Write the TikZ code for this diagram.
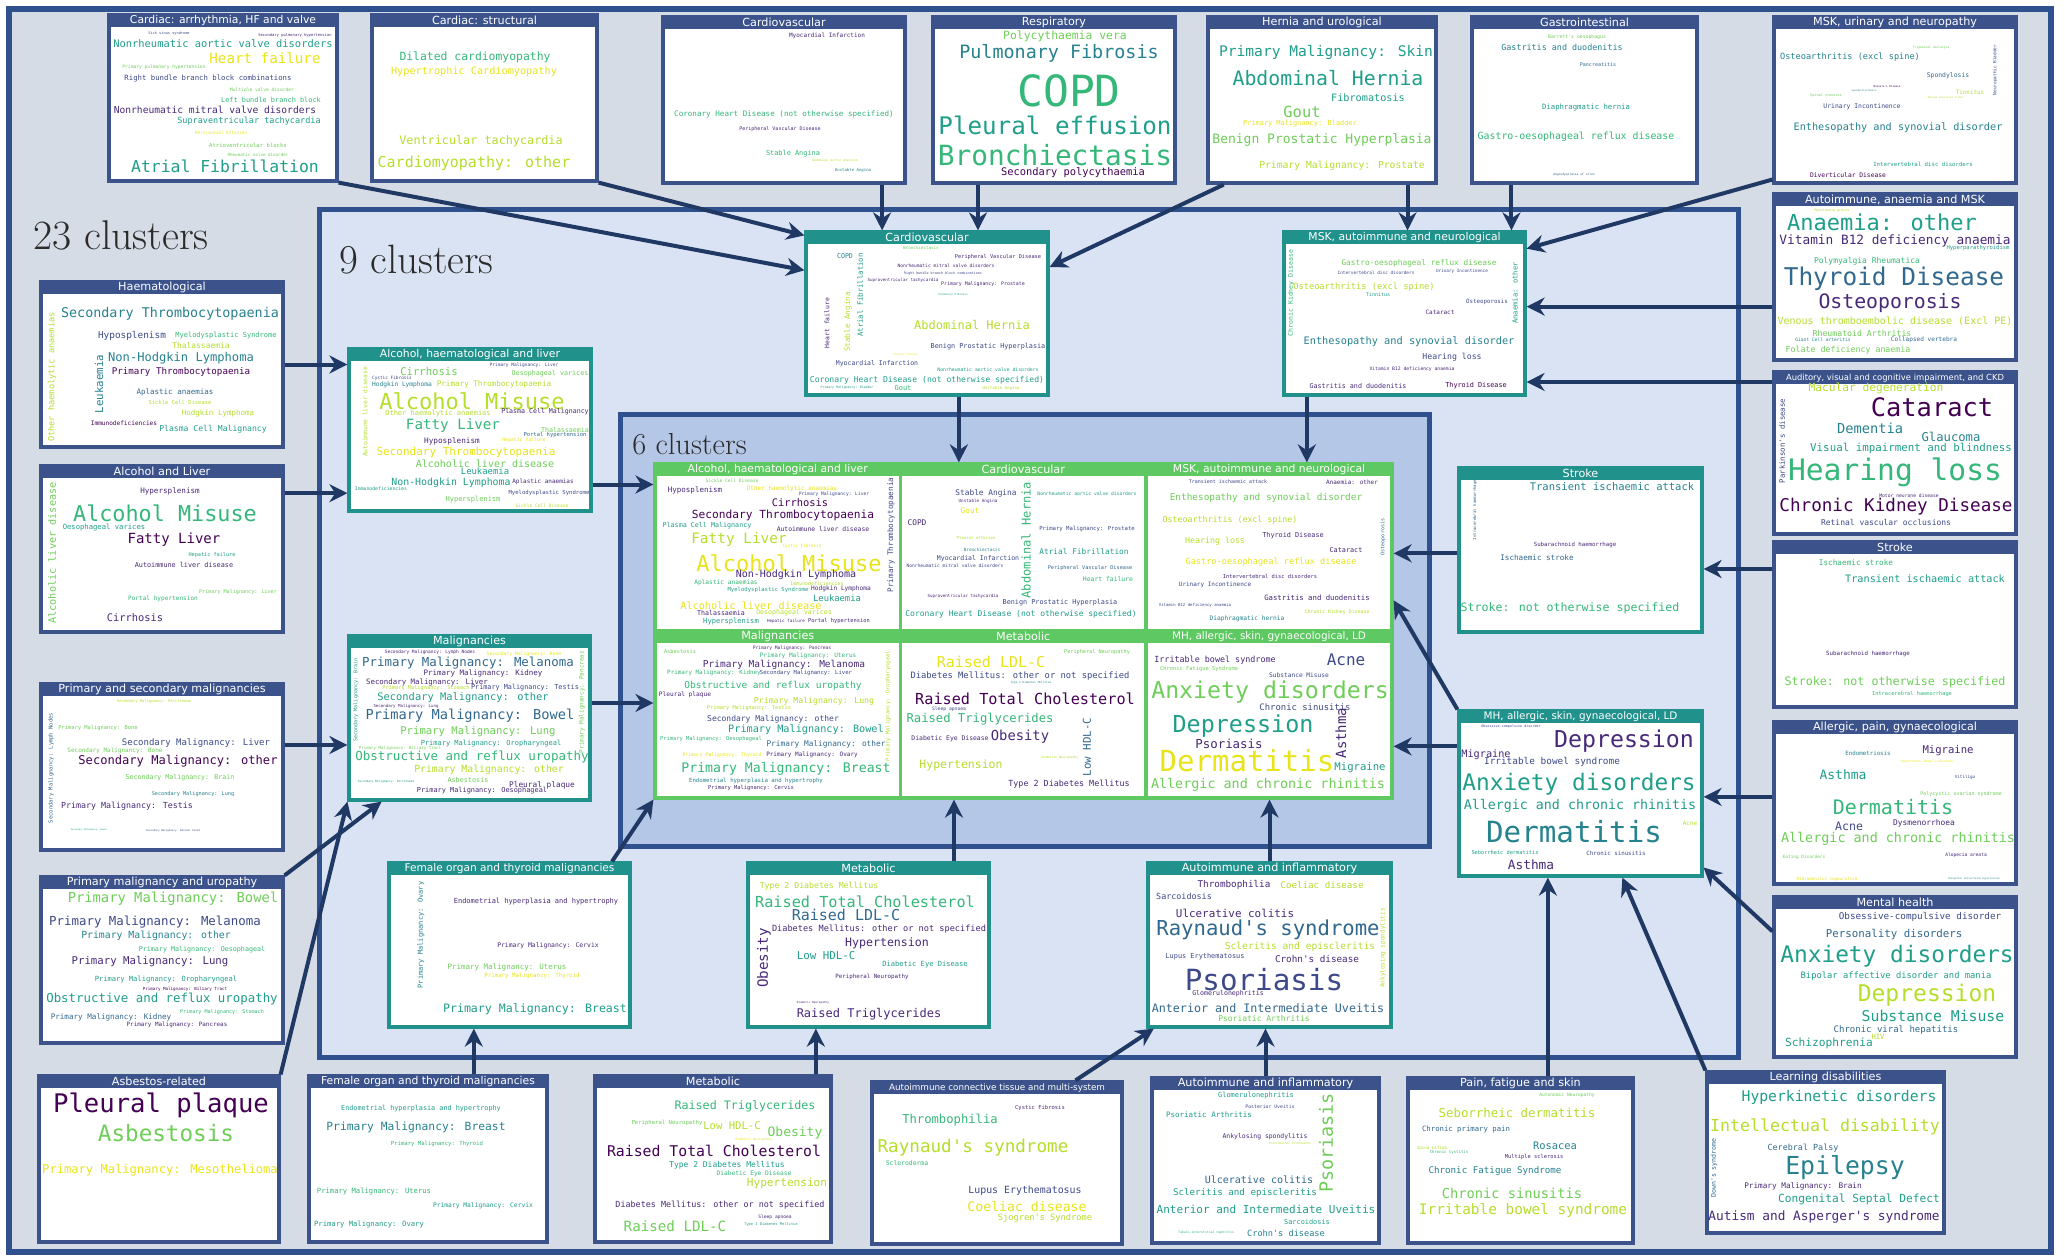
\documentclass[tikz,border=0pt]{standalone}
\usepackage{fontspec}
\newfontfamily\cloudfont{DejaVu Sans Mono}
\newfontfamily\headfont{DejaVu Sans}
\usepackage{tikz}
\usetikzlibrary{calc}
\usetikzlibrary{fit}
\usetikzlibrary{arrows.meta}
\definecolor{v0}{HTML}{440154}
\definecolor{v1}{HTML}{482878}
\definecolor{v2}{HTML}{3E4989}
\definecolor{v3}{HTML}{31688E}
\definecolor{v4}{HTML}{26828E}
\definecolor{v5}{HTML}{1F9E89}
\definecolor{v6}{HTML}{35B779}
\definecolor{v7}{HTML}{6ECE58}
\definecolor{v8}{HTML}{B5DE2B}
\definecolor{v9}{HTML}{E8E419}
\definecolor{hdblue}{HTML}{3B528B}
\definecolor{hdteal}{HTML}{21918C}
\definecolor{hdgreen}{HTML}{5EC962}
\definecolor{linkblue}{HTML}{203864}
\definecolor{frameblue}{HTML}{2F528F}
\definecolor{bgA}{HTML}{D6DCE5}
\definecolor{bgB}{HTML}{DAE3F3}
\definecolor{bgC}{HTML}{B4C7E7}
\definecolor{numtext}{HTML}{2B2B2B}
\tikzset{
  clbox/.style={
    draw=#1,
    fill=white,
    line width=1.6pt,
    inner sep=0pt,
  },
  hdtext/.style={
    text=white,
    inner sep=0pt,
  },
  cw/.style 2 args={
    font=\cloudfont\fontsize{#1}{#1}\selectfont,
    text=#2,
    inner sep=0pt,
  },
  link/.style={
    draw=linkblue,
    line width=2pt,
    -{Stealth[length=9pt,width=9pt]},
  },
  panel/.style={
    draw=frameblue,
    line width=2.5pt,
  },
  bignum/.style={
    text=numtext,
    anchor=base west,
    inner sep=0pt,
  }
}
% box with coloured title band: [title size]{name}{x1}{y1}{x2}{y2}{colour}{title}
\newcommand{\clusterbox}[8][5.6]{%
  \coordinate (#2-nw) at (#3,#4);
  \coordinate (#2-se) at (#5,#6);
  \node[clbox=#7, fit=(#2-nw)(#2-se)] (#2) {};
  \fill[#7] (#2.north west) rectangle ([yshift=-7pt]#2.north east);
  \node[hdtext, font=\headfont\fontsize{#1}{#1}\selectfont] (#2-title) at ([yshift=-3.7pt]#2.north) {#8};
}
% words of a cloud: x/y/size/colour/rotation/text
\newcommand{\wordcloud}[2]{%
  \foreach \x/\y/\sz/\col/\rot/\w [count=\i] in {#2} {
    \node[cw={\sz}{\col}, rotate=\rot] (#1-w\i) at (\x,\y) {\w};
  }
}

\begin{document}
\begin{tikzpicture}[x=0.5pt, y=-0.5pt]
  \useasboundingbox (0,0) rectangle (2065,1258);

  % nested panels
  \draw[panel, line width=3pt, fill=bgA] (9,9) rectangle (2051,1252);
  \draw[panel, fill=bgB] (319,209) rectangle (1738,1057);
  \draw[panel, fill=bgC] (620,414) rectangle (1429,846);

  \node[bignum, font=\fontsize{20.8}{20.8}\selectfont] (lab23) at (33,249) {23 clusters};
  \node[bignum, font=\fontsize{20.5}{20.5}\selectfont] (lab9) at (339,273) {9 clusters};
  \node[bignum, font=\fontsize{15.2}{15.2}\selectfont] (lab6) at (632,454) {6 clusters};

  % ---------------- 23 clusters ----------------
  \clusterbox[5.4]{arrh23}{109}{15}{337}{181}{hdblue}{Cardiac: arrhythmia, HF and valve}
  \wordcloud{arrh23}{169/34/1.8/v2/0/{Sick sinus syndrome}, 295/35/1.9/v1/0/{Secondary pulmonary hypertension},
    223/44/5.2/v5/0/{Nonrheumatic aortic valve disorders}, 265/58/7.1/v9/0/{Heart failure},
    164/67/2.3/v7/0/{Primary pulmonary hypertension}, 208/78/3.65/v2/0/{Right bundle branch block combinations},
    262/90/2.3/v7/0/{Multiple valve disorder}, 271/100/3.45/v6/0/{Left bundle branch block},
    215/110/4.8/v1/0/{Nonrheumatic mitral valve disorders}, 249/121/4.25/v5/0/{Supraventricular tachycardia},
    221/133/2.15/v9/0/{Pericardial Effusion}, 248/145/2.8/v7/0/{Atrioventricular blocks},
    258/155/2.1/v7/0/{Rheumatic valve disorder}, 225/166/8.2/v5/0/{Atrial Fibrillation}}

  \clusterbox{struct23}{372}{15}{597}{181}{hdblue}{Cardiac: structural}
  \wordcloud{struct23}{475/57/5.7/v6/0/{Dilated cardiomyopathy}, 474/72/5.1/v9/0/{Hypertrophic Cardiomyopathy},
    481/141/5.9/v8/0/{Ventricular tachycardia}, 474/163/7.5/v8/0/{Cardiomyopathy: other}}

  \clusterbox{cv23}{663}{17}{905}{183}{hdblue}{Cardiovascular}
  \wordcloud{cv23}{827/36/3.0/v1/0/{Myocardial Infarction}, 784/114/3.8/v6/0/{Coronary Heart Disease (not otherwise specified)},
    780/129/2.5/v1/0/{Peripheral Vascular Disease}, 793/154/3.45/v6/0/{Stable Angina},
    835/161/1.5/v8/0/{Abdominal Aortic Aneurysm}, 853/170/2.0/v4/0/{Unstable Angina}}

  \clusterbox{resp23}{933}{17}{1175}{183}{hdblue}{Respiratory}
  \wordcloud{resp23}{1065/36/5.7/v7/0/{Polycythaemia vera}, 1059/53/9.2/v4/0/{Pulmonary Fibrosis},
    1069/91/21.5/v6/0/{COPD}, 1055/125/12.1/v5/0/{Pleural effusion},
    1055/155/13.9/v6/0/{Bronchiectasis}, 1073/173/5.2/v0/0/{Secondary polycythaemia}}

  \clusterbox{hern23}{1208}{17}{1436}{183}{hdblue}{Hernia and urological}
  \wordcloud{hern23}{1326/52/7.3/v5/0/{Primary Malignancy: Skin}, 1328/78/9.9/v5/0/{Abdominal Hernia},
    1368/98/5.1/v5/0/{Fibromatosis}, 1302/112/7.7/v7/0/{Gout},
    1300/124/3.45/v9/0/{Primary Malignancy: Bladder}, 1322/140/6.5/v7/0/{Benign Prostatic Hyperplasia},
    1342/166/4.85/v8/0/{Primary Malignancy: Prostate}}

  \clusterbox{gi23}{1472}{17}{1697}{183}{hdblue}{Gastrointestinal}
  \wordcloud{gi23}{1577/37/2.4/v7/0/{Barrett's oesophagus}, 1562/47/4.2/v4/0/{Gastritis and duodenitis},
    1598/65/2.5/v3/0/{Pancreatitis}, 1586/108/3.65/v5/0/{Diaphragmatic hernia},
    1576/137/4.95/v6/0/{Gastro-oesophageal reflux disease}, 1574/175/1.5/v3/0/{Angiodysplasia of colon}}

  \clusterbox{mskun23}{1774}{17}{2016}{183}{hdblue}{MSK, urinary and neuropathy}
  \wordcloud{mskun23}{1931/48/1.5/v7/0/{Trigeminal neuralgia}, 1850/57/4.3/v4/0/{Osteoarthritis (excl spine)},
    1995/70/2.2/v2/90/{Neuropathic Bladder}, 1948/76/3.2/v3/0/{Spondylosis},
    1970/92/2.95/v8/0/{Tinnitus}, 1887/87/1.3/v0/0/{Meniere's Disease},
    1864/91/1.2/v4/0/{Spondylolisthesis}, 1826/96/1.75/v7/0/{Spinal stenosis},
    1946/98/1.3/v8/0/{Benign essential tremor}, 1862/107/3.2/v2/0/{Urinary Incontinence},
    1898/128/5.1/v4/0/{Enthesopathy and synovial disorder}, 1923/164/2.85/v5/0/{Intervertebral disc disorders},
    1848/175/3.15/v0/0/{Diverticular Disease}}

  \clusterbox{autan23}{1774}{194}{2016}{360}{hdblue}{Autoimmune, anaemia and MSK}
  \wordcloud{autan23}{1832/211/1.7/v8/0/{Myasthenia gravis}, 1882/222/11/v5/0/{Anaemia: other},
    1895/241/6.4/v1/0/{Vitamin B12 deficiency anaemia}, 1978/248/2.75/v5/0/{Hyperparathyroidism},
    1867/261/4.0/v6/0/{Polymyalgia Rheumatica}, 1894/279/12.2/v3/0/{Thyroid Disease},
    1890/303/9.9/v1/0/{Osteoporosis}, 1895/321/5.0/v8/0/{Venous thromboembolic disease (Excl PE)},
    1862/333/4.1/v7/0/{Rheumatoid Arthritis}, 1823/340/2.3/v4/0/{Giant Cell arteritis},
    1924/340/3.05/v3/0/{Collapsed vertebra}, 1848/350/4.15/v7/0/{Folate deficiency anaemia}}

  \clusterbox[4.2]{aud23}{1774}{372}{2016}{534}{hdblue}{Auditory, visual and cognitive impairment, and CKD}
  \wordcloud{aud23}{1876/388/5.6/v8/0/{Macular degeneration}, 1932/407/12.7/v0/0/{Cataract},
    1870/428/6.85/v4/0/{Dementia}, 1951/437/6.1/v4/0/{Glaucoma},
    1911/448/5.4/v5/0/{Visual impairment and blindness}, 1782/441/3.7/v2/90/{Parkinson's disease},
    1895/472/14.8/v6/0/{Hearing loss}, 1909/496/2.35/v1/0/{Motor neurone disease},
    1896/507/8.8/v0/0/{Chronic Kidney Disease}, 1886/522/4.0/v2/0/{Retinal vascular occlusions}}

  \clusterbox{stroke23}{1774}{542}{2016}{707}{hdblue}{Stroke}
  \wordcloud{stroke23}{1856/563/3.85/v6/0/{Ischaemic stroke}, 1925/579/5.1/v5/0/{Transient ischaemic attack},
    1868/654/2.9/v1/0/{Subarachnoid haemorrhage}, 1895/682/5.85/v7/0/{Stroke: not otherwise specified},
    1912/694/2.65/v6/0/{Intracerebral haemorrhage}}

  \clusterbox{allerg23}{1774}{722}{2016}{884}{hdblue}{Allergic, pain, gynaecological}
  \wordcloud{allerg23}{1868/753/2.9/v4/0/{Endometriosis}, 1948/751/5.3/v1/0/{Migraine},
    1927/762/1.5/v9/0/{Hypertrophic Nasal Turbinates}, 1843/775/6.5/v5/0/{Asthma},
    1965/777/2.1/v2/0/{Vitiligo}, 1961/794/2.5/v7/0/{Polycystic ovarian syndrome},
    1893/807/10/v6/0/{Dermatitis}, 1924/823/3.95/v1/0/{Dysmenorrhoea},
    1849/826/5.8/v2/0/{Acne}, 1898/839/6.7/v7/0/{Allergic and chronic rhinitis},
    1804/857/2.2/v7/0/{Eating Disorders}, 1966/855/2.3/v1/0/{Alopecia areata},
    1827/879/2.1/v9/0/{Hidradenitis suppurativa}, 1974/879/1.2/v4/0/{Idiopathic Intracranial Hypertension}}

  \clusterbox{mh23}{1774}{897}{2016}{1057}{hdblue}{Mental health}
  \wordcloud{mh23}{1920/917/4.65/v2/0/{Obsessive-compulsive disorder}, 1894/934/5.4/v3/0/{Personality disorders},
    1897/956/11.4/v5/0/{Anxiety disorders}, 1896/976/4.4/v5/0/{Bipolar affective disorder and mania},
    1927/995/11.5/v8/0/{Depression}, 1933/1016/7.4/v5/0/{Substance Misuse},
    1896/1030/4.5/v3/0/{Chronic viral hepatitis}, 1878/1037/3.6/v8/0/{HIV},
    1829/1043/5.6/v5/0/{Schizophrenia}}

  \clusterbox{ld23}{1707}{1072}{1944}{1233}{hdblue}{Learning disabilities}
  \wordcloud{ld23}{1839/1097/7.35/v5/0/{Hyperkinetic disorders}, 1825/1127/8.3/v8/0/{Intellectual disability},
    1803/1148/4.2/v3/0/{Cerebral Palsy}, 1714/1168/3.3/v3/90/{Down's syndrome},
    1845/1168/12.4/v4/0/{Epilepsy}, 1803/1186/3.85/v1/0/{Primary Malignancy: Brain},
    1859/1199/5.6/v5/0/{Congenital Septal Defect}, 1824/1217/6.4/v1/0/{Autism and Asperger's syndrome}}

  \clusterbox{pfs23}{1408}{1078}{1633}{1243}{hdblue}{Pain, fatigue and skin}
  \wordcloud{pfs23}{1567/1095/2.3/v7/0/{Autonomic Neuropathy}, 1517/1113/6.2/v8/0/{Seborrheic dermatitis},
    1466/1129/3.65/v3/0/{Chronic primary pain}, 1432/1148/2.1/v8/0/{Spina bifida},
    1449/1152/2.0/v6/0/{Chronic Cystitis}, 1555/1146/5.2/v4/0/{Rosacea},
    1534/1157/2.7/v1/0/{Multiple sclerosis}, 1495/1171/4.6/v4/0/{Chronic Fatigue Syndrome},
    1512/1193/6.85/v7/0/{Chronic sinusitis}, 1523/1210/7.2/v8/0/{Irritable bowel syndrome}}

  \clusterbox{ai23}{1152}{1078}{1379}{1243}{hdblue}{Autoimmune and inflammatory}
  \wordcloud{ai23}{1256/1096/3.5/v5/0/{Glomerulonephritis}, 1270/1107/2.4/v2/0/{Posterior Uveitis},
    1209/1115/3.75/v5/0/{Psoriatic Arthritis}, 1326/1143/9.2/v7/90/{Psoriasis},
    1265/1137/3.2/v1/0/{Ankylosing spondylitis}, 1290/1144/1.45/v8/0/{Enteropathic arthropathy},
    1259/1180/5.0/v3/0/{Ulcerative colitis}, 1245/1193/4.6/v5/0/{Scleritis and episcleritis},
    1266/1209/5.5/v5/0/{Anterior and Intermediate Uveitis}, 1307/1222/3.45/v5/0/{Sarcoidosis},
    1206/1233/1.6/v6/0/{Tubulo-interstitial nephritis}, 1286/1233/4.3/v4/0/{Crohn's disease}}

  \clusterbox[4.4]{act23}{872}{1082}{1122}{1244}{hdblue}{Autoimmune connective tissue and multi-system}
  \wordcloud{act23}{1040/1108/2.75/v1/0/{Cystic Fibrosis}, 950/1120/6.1/v6/0/{Thrombophilia},
    973/1148/8.8/v8/0/{Raynaud's syndrome}, 907/1163/3.2/v6/0/{Scleroderma},
    1025/1191/4.95/v2/0/{Lupus Erythematosus}, 1027/1207/6.6/v9/0/{Coeliac disease},
    1045/1218/4.35/v8/0/{Sjogren's Syndrome}}

  \clusterbox{met23}{595}{1076}{831}{1242}{hdblue}{Metabolic}
  \wordcloud{met23}{745/1106/5.85/v6/0/{Raised Triglycerides}, 667/1123/2.8/v7/0/{Peripheral Neuropathy},
    732/1126/5.3/v8/0/{Low HDL-C}, 795/1133/6.5/v7/0/{Obesity},
    754/1140/1.6/v9/0/{Diabetic Neuropathy}, 714/1151/7.4/v0/0/{Raised Total Cholesterol},
    727/1165/4.0/v5/0/{Type 2 Diabetes Mellitus}, 754/1174/3.1/v6/0/{Diabetic Eye Disease},
    787/1183/5.55/v8/0/{Hypertension}, 720/1205/4.2/v1/0/{Diabetes Mellitus: other or not specified},
    775/1217/2.3/v1/0/{Sleep apnoea}, 771/1224/1.85/v5/0/{Type 1 Diabetes Mellitus},
    675/1226/7.1/v7/0/{Raised LDL-C}}

  \clusterbox[5.4]{fem23}{309}{1076}{547}{1242}{hdblue}{Female organ and thyroid malignancies}
  \wordcloud{fem23}{421/1109/3.4/v5/0/{Endometrial hyperplasia and hypertrophy}, 416/1127/5.65/v4/0/{Primary Malignancy: Breast},
    437/1144/2.8/v6/0/{Primary Malignancy: Thyroid}, 374/1191/3.6/v6/0/{Primary Malignancy: Uterus},
    483/1206/3.15/v5/0/{Primary Malignancy: Cervix}, 369/1225/3.6/v5/0/{Primary Malignancy: Ovary}}

  \clusterbox{asb23}{39}{1076}{279}{1242}{hdblue}{Asbestos-related}
  \wordcloud{asb23}{161/1105/12.8/v0/0/{Pleural plaque}, 166/1133/11.3/v7/0/{Asbestosis},
    160/1170/6.05/v9/0/{Primary Malignancy: Mesothelioma}}

  \clusterbox{pmu23}{41}{877}{283}{1043}{hdblue}{Primary malignancy and uropathy}
  \wordcloud{pmu23}{173/899/6.9/v7/0/{Primary Malignancy: Bowel}, 155/922/6.2/v2/0/{Primary Malignancy: Melanoma},
    156/936/4.9/v4/0/{Primary Malignancy: other}, 202/950/3.35/v6/0/{Primary Malignancy: Oesophageal},
    150/962/5.35/v1/0/{Primary Malignancy: Lung}, 166/980/3.55/v5/0/{Primary Malignancy: Oropharyngeal},
    185/989/2.1/v0/0/{Primary Malignancy: Biliary Tract}, 162/999/6.2/v5/0/{Obstructive and reflux uropathy},
    222/1012/2.55/v6/0/{Primary Malignancy: Stomach}, 111/1017/3.8/v3/0/{Primary Malignancy: Kidney},
    177/1025/2.95/v1/0/{Primary Malignancy: Pancreas}}

  \clusterbox{psm23}{41}{684}{283}{850}{hdblue}{Primary and secondary malignancies}
  \wordcloud{psm23}{154/701/1.9/v8/0/{Secondary Malignancy: Peritoneum}, 51/768/2.75/v3/90/{Secondary Malignancy: Lymph Nodes},
    98/728/2.7/v7/0/{Primary Malignancy: Bone}, 196/743/4.5/v2/0/{Secondary Malignancy: Liver},
    115/751/3.0/v7/0/{Secondary Malignancy: Bone}, 178/761/6.05/v0/0/{Secondary Malignancy: other},
    180/778/3.3/v7/0/{Secondary Malignancy: Brain}, 193/794/2.6/v4/0/{Secondary Malignancy: Lung},
    127/806/4.15/v1/0/{Primary Malignancy: Testis}, 89/830/1.1/v5/0/{Secondary Malignancy: Bowel},
    173/831/1.26/v2/0/{Secondary Malignancy: Adrenal Gland}}

  \clusterbox{al23}{41}{466}{283}{632}{hdblue}{Alcohol and Liver}
  \wordcloud{al23}{52/553/5.1/v7/90/{Alcoholic liver disease}, 170/491/3.8/v1/0/{Hypersplenism},
    165/513/10.9/v6/0/{Alcohol Misuse}, 104/528/3.6/v5/0/{Oesophageal varices},
    174/540/7.0/v0/0/{Fatty Liver}, 212/555/2.6/v5/0/{Hepatic failure},
    184/565/3.4/v1/0/{Autoimmune liver disease}, 238/592/2.55/v7/0/{Primary Malignancy: Liver},
    163/599/3.05/v6/0/{Portal hypertension}, 135/618/5.2/v1/0/{Cirrhosis}}

  \clusterbox{haem23}{41}{282}{283}{447}{hdblue}{Haematological}
  \wordcloud{haem23}{52/377/4.3/v8/90/{Other haemolytic anaemias}, 170/314/6.7/v4/0/{Secondary Thrombocytopaenia},
    132/336/4.7/v2/0/{Hyposplenism}, 226/336/3.5/v6/0/{Myelodysplastic Syndrome},
    201/346/3.95/v8/0/{Thalassaemia}, 181/358/6.05/v4/0/{Non-Hodgkin Lymphoma},
    181/372/4.6/v0/0/{Primary Thrombocytopaenia}, 99/384/5.4/v4/90/{Leukaemia},
    175/392/3.75/v3/0/{Aplastic anaemias}, 180/402/2.75/v8/0/{Sickle Cell Disease},
    218/413/3.75/v8/0/{Hodgkin Lymphoma}, 124/423/3.05/v0/0/{Immunodeficiencies},
    213/429/4.05/v5/0/{Plasma Cell Malignancy}}

  % ---------------- 9 clusters ----------------
  \clusterbox[5.4]{alc9}{349}{349}{591}{511}{hdteal}{Alcohol, haematological and liver}
  \wordcloud{alc9}{524/365/2.25/v2/0/{Primary Malignancy: Liver}, 429/372/5.3/v7/0/{Cirrhosis},
    550/374/3.35/v7/0/{Oesophageal varices}, 365/412/3.1/v8/90/{Autoimmune liver disease},
    392/378/2.2/v2/0/{Cystic Fibrosis}, 402/385/3.1/v4/0/{Hodgkin Lymphoma},
    494/384/3.8/v8/0/{Primary Thrombocytopaenia}, 472/401/11/v8/0/{Alcohol Misuse},
    438/414/3.5/v8/0/{Other haemolytic anaemias}, 545/412/3.3/v1/0/{Plasma Cell Malignancy},
    453/426/7.1/v6/0/{Fatty Liver}, 565/430/3.3/v7/0/{Thalassaemia},
    555/435/2.75/v3/0/{Portal hypertension}, 524/440/2.4/v9/0/{Hepatic failure},
    452/441/3.85/v1/0/{Hyposplenism}, 466/452/5.5/v9/0/{Secondary Thrombocytopaenia},
    485/464/5.0/v7/0/{Alcoholic liver disease}, 485/471/4.45/v5/0/{Leukaemia},
    451/483/4.95/v5/0/{Non-Hodgkin Lymphoma}, 543/482/3.0/v1/0/{Aplastic anaemias},
    381/489/2.4/v5/0/{Immunodeficiencies}, 549/493/2.8/v2/0/{Myelodysplastic Syndrome},
    473/500/3.5/v7/0/{Hypersplenism}, 542/506/2.3/v8/0/{Sickle Cell Disease}}

  \clusterbox{mal9}{349}{636}{590}{800}{hdteal}{Malignancies}
  \wordcloud{mal9}{430/652/2.25/v1/0/{Secondary Malignancy: Lymph Nodes}, 524/654/2.35/v9/0/{Secondary Malignancy: Bone},
    356/700/2.55/v5/90/{Secondary Malignancy: Brain}, 582/702/3.0/v7/90/{Primary Malignancy: Pancreas},
    468/663/6.2/v3/0/{Primary Malignancy: Melanoma}, 483/673/3.75/v1/0/{Primary Malignancy: Kidney},
    427/682/3.7/v1/0/{Secondary Malignancy: Liver}, 426/688/2.65/v8/0/{Primary Malignancy: Stomach},
    525/688/3.4/v2/0/{Primary Malignancy: Testis}, 463/698/5.2/v5/0/{Secondary Malignancy: other},
    406/706/2.05/v1/0/{Secondary Malignancy: Lung}, 470/716/6.85/v3/0/{Primary Malignancy: Bowel},
    478/732/5.3/v7/0/{Primary Malignancy: Lung}, 491/744/3.5/v5/0/{Primary Malignancy: Oropharyngeal},
    400/748/2.05/v7/0/{Primary Malignancy: Biliary Tract}, 472/757/6.25/v6/0/{Obstructive and reflux uropathy},
    489/770/4.9/v8/0/{Primary Malignancy: other}, 468/780/3.4/v7/0/{Asbestosis},
    542/785/3.9/v1/0/{Pleural plaque}, 482/791/3.45/v1/0/{Primary Malignancy: Oesophageal},
    386/782/1.45/v5/0/{Secondary Malignancy: Peritoneum}}

  \clusterbox{cv9}{806}{232}{1048}{395}{hdteal}{Cardiovascular}
  \wordcloud{cv9}{845/256/3.3/v4/0/{COPD}, 860/295/3.65/v5/90/{Atrial Fibrillation},
    848/322/3.8/v8/90/{Stable Angina}, 827/323/3.2/v1/90/{Heart failure},
    921/248/2.1/v7/0/{Bronchiectasis}, 998/257/2.65/v1/0/{Peripheral Vascular Disease},
    946/266/2.3/v1/0/{Nonrheumatic mitral valve disorders}, 943/274/1.7/v2/0/{Right bundle branch block combinations},
    903/280/2.1/v1/0/{Supraventricular tachycardia}, 983/284/2.45/v1/0/{Primary Malignancy: Prostate},
    953/295/1.35/v5/0/{Pulmonary Fibrosis}, 972/325/6.0/v8/0/{Abdominal Hernia},
    988/347/3.4/v2/0/{Benign Prostatic Hyperplasia}, 906/355/1.25/v9/0/{Pleural effusion},
    877/364/3.25/v2/0/{Myocardial Infarction}, 988/370/2.4/v5/0/{Nonrheumatic aortic valve disorders},
    927/380/4.05/v5/0/{Coronary Heart Disease (not otherwise specified)}, 903/388/3.5/v6/0/{Gout},
    847/388/1.6/v5/0/{Primary Malignancy: Bladder}, 1001/388/2.05/v8/0/{Unstable Angina}}

  \clusterbox[5.4]{msk9}{1284}{232}{1525}{395}{hdteal}{MSK, autoimmune and neurological}
  \wordcloud{msk9}{1419/263/3.9/v7/0/{Gastro-oesophageal reflux disease}, 1462/271/2.15/v2/0/{Urinary Incontinence},
    1376/273/2.2/v2/0/{Intervertebral disc disorders}, 1364/287/4.35/v8/0/{Osteoarthritis (excl spine)},
    1378/295/2.5/v5/0/{Tinnitus}, 1291/293/3.25/v6/90/{Chronic Kidney Disease},
    1515/293/3.55/v5/90/{Anaemia: other}, 1487/302/2.9/v2/0/{Osteoporosis},
    1440/312/3.0/v1/0/{Cataract}, 1409/342/5.15/v4/0/{Enthesopathy and synovial disorder},
    1452/357/4.1/v2/0/{Hearing loss}, 1412/369/2.35/v1/0/{Vitamin B12 deficiency anaemia},
    1358/386/3.35/v1/0/{Gastritis and duodenitis}, 1476/386/3.4/v0/0/{Thyroid Disease}}

  \clusterbox{stroke9}{1459}{468}{1702}{632}{hdteal}{Stroke}
  \wordcloud{stroke9}{1612/487/5.25/v4/0/{Transient ischaemic attack}, 1475/510/2.0/v3/90/{Intracerebral haemorrhage},
    1575/545/2.85/v1/0/{Subarachnoid haemorrhage}, 1537/558/3.8/v3/0/{Ischaemic stroke},
    1570/608/5.8/v6/0/{Stroke: not otherwise specified}}

  \clusterbox[5.2]{mh9}{1459}{711}{1702}{876}{hdteal}{MH, allergic, skin, gynaecological, LD}
  \wordcloud{mh9}{1511/727/1.7/v2/0/{Obsessive-compulsive disorder}, 1624/741/11.6/v1/0/{Depression},
    1486/755/5.1/v1/0/{Migraine}, 1552/762/4.7/v2/0/{Irritable bowel syndrome},
    1579/784/11.4/v5/0/{Anxiety disorders}, 1580/806/6.65/v5/0/{Allergic and chronic rhinitis},
    1574/832/14.6/v4/0/{Dermatitis}, 1690/823/3.0/v8/0/{Acne},
    1505/853/2.65/v5/0/{Seborrheic dermatitis}, 1616/853/2.9/v2/0/{Chronic sinusitis},
    1531/865/6.4/v1/0/{Asthma}}

  \clusterbox[5.3]{fem9}{389}{863}{630}{1027}{hdteal}{Female organ and thyroid malignancies}
  \wordcloud{fem9}{421/935/3.5/v4/90/{Primary Malignancy: Ovary}, 536/902/3.5/v1/0/{Endometrial hyperplasia and hypertrophy},
    548/946/3.2/v1/0/{Primary Malignancy: Cervix}, 507/967/3.75/v7/0/{Primary Malignancy: Uterus},
    532/976/2.9/v9/0/{Primary Malignancy: Thyroid}, 535/1009/5.8/v5/0/{Primary Malignancy: Breast}}

  \clusterbox{met9}{748}{863}{989}{1027}{hdteal}{Metabolic}
  \wordcloud{met9}{819/886/4.1/v8/0/{Type 2 Diabetes Mellitus}, 865/902/7.6/v6/0/{Raised Total Cholesterol},
    846/915/7.5/v3/0/{Raised LDL-C}, 879/929/4.3/v1/0/{Diabetes Mellitus: other or not specified},
    764/958/7.1/v1/90/{Obesity}, 887/943/5.8/v1/0/{Hypertension},
    826/956/5.4/v5/0/{Low HDL-C}, 925/965/3.55/v5/0/{Diabetic Eye Disease},
    872/977/2.9/v1/0/{Peripheral Neuropathy}, 813/1003/1.4/v1/0/{Diabetic Neuropathy},
    869/1014/6.0/v1/0/{Raised Triglycerides}}

  \clusterbox{ai9}{1148}{863}{1391}{1027}{hdteal}{Autoimmune and inflammatory}
  \wordcloud{ai9}{1234/885/4.65/v1/0/{Thrombophilia}, 1322/885/4.6/v8/0/{Coeliac disease},
    1184/896/4.2/v2/0/{Sarcoidosis}, 1235/913/5.45/v1/0/{Ulcerative colitis},
    1268/930/10.3/v3/0/{Raynaud's syndrome}, 1300/947/4.8/v8/0/{Scleritis and episcleritis},
    1205/957/3.45/v2/0/{Lupus Erythematosus}, 1317/959/4.65/v1/0/{Crohn's disease},
    1264/980/14.6/v2/0/{Psoriasis}, 1228/994/3.3/v1/0/{Glomerulonephritis},
    1268/1008/5.85/v3/0/{Anterior and Intermediate Uveitis}, 1264/1019/4.0/v7/0/{Psoriatic Arthritis},
    1383/948/3.0/v8/90/{Ankylosing spondylitis}}

  % ---------------- 6 clusters ----------------
  \clusterbox[5.4]{alc6}{655}{464}{900.5}{631}{hdgreen}{Alcohol, haematological and liver}
  \wordcloud{alc6}{732/481/2.3/v7/0/{Sickle Cell Disease}, 695/490/3.75/v1/0/{Hyposplenism},
    792/489/3.0/v9/0/{Other haemolytic anaemias}, 834/494/2.3/v2/0/{Primary Malignancy: Liver},
    800/503/5.2/v0/0/{Cirrhosis}, 891/535/3.8/v2/90/{Primary Thrombocytopaenia},
    783/515/5.6/v0/0/{Secondary Thrombocytopaenia}, 707/526/3.35/v5/0/{Plasma Cell Malignancy},
    823/529/3.2/v1/0/{Autoimmune liver disease}, 739/540/7.2/v8/0/{Fatty Liver},
    802/546/2.15/v9/0/{Cystic Fibrosis}, 789/563/11/v9/0/{Alcohol Misuse},
    796/575/5.0/v1/0/{Non-Hodgkin Lymphoma}, 726/583/3.1/v6/0/{Aplastic anaemias},
    817/584/2.45/v8/0/{Immunodeficiencies}, 768/590/2.8/v5/0/{Myelodysplastic Syndrome},
    841/589/3.1/v1/0/{Hodgkin Lymphoma}, 837/598/4.4/v5/0/{Leukaemia},
    751/606/5.1/v9/0/{Alcoholic liver disease}, 721/613/3.3/v1/0/{Thalassaemia},
    794/613/3.3/v8/0/{Oesophageal varices}, 731/622/3.55/v5/0/{Hypersplenism},
    786/621/2.1/v1/0/{Hepatic failure}, 839/621/2.7/v1/0/{Portal hypertension}}

  \clusterbox{cv6}{900.5}{464}{1146}{631}{hdgreen}{Cardiovascular}
  \wordcloud{cv6}{986/493/3.9/v2/0/{Stable Angina}, 978/501/2.15/v1/0/{Unstable Angina},
    970/511/3.9/v9/0/{Gout}, 917/523/3.9/v1/0/{COPD},
    1026/540/6.05/v6/90/{Abdominal Hernia}, 976/538/2.0/v8/0/{Pleural effusion},
    982/550/2.15/v4/0/{Bronchiectasis}, 978/559/3.25/v2/0/{Myocardial Infarction},
    955/566/2.3/v2/0/{Nonrheumatic mitral valve disorders}, 1084/552/3.9/v5/0/{Atrial Fibrillation},
    1087/494/2.35/v5/0/{Nonrheumatic aortic valve disorders}, 1087/529/2.8/v2/0/{Primary Malignancy: Prostate},
    1108/579/3.2/v6/0/{Heart failure}, 1090/568/2.6/v3/0/{Peripheral Vascular Disease},
    1060/603/3.4/v2/0/{Benign Prostatic Hyperplasia}, 963/596/2.1/v1/0/{Supraventricular tachycardia},
    1021/614/4.0/v5/0/{Coronary Heart Disease (not otherwise specified)}}

  \clusterbox[5.4]{msk6}{1146}{464}{1392}{631}{hdgreen}{MSK, autoimmune and neurological}
  \wordcloud{msk6}{1228/482/2.5/v2/0/{Transient ischaemic attack}, 1352/482/3.0/v1/0/{Anaemia: other},
    1266/498/4.7/v7/0/{Enthesopathy and synovial disorder}, 1230/520/4.15/v8/0/{Osteoarthritis (excl spine)},
    1293/536/3.4/v1/0/{Thyroid Disease}, 1215/541/4.15/v8/0/{Hearing loss},
    1346/550/3.4/v1/0/{Cataract}, 1271/562/4.3/v9/0/{Gastro-oesophageal reflux disease},
    1270/576/2.7/v1/0/{Intervertebral disc disorders}, 1215/585/3.0/v2/0/{Urinary Incontinence},
    1317/598/3.65/v1/0/{Gastritis and duodenitis}, 1195/605/2.0/v2/0/{Vitamin B12 deficiency anaemia},
    1337/612/2.45/v8/0/{Chronic Kidney Disease}, 1247/619/3.1/v4/0/{Diaphragmatic hernia},
    1383/537/2.5/v3/90/{Osteoporosis}}

  \clusterbox{mal6}{655}{631}{900.5}{798}{hdgreen}{Malignancies}
  \wordcloud{mal6}{680/652/2.65/v7/0/{Asbestosis}, 792/648/2.3/v1/0/{Primary Malignancy: Pancreas},
    808/656/3.05/v6/0/{Primary Malignancy: Uterus}, 784/665/4.75/v1/0/{Primary Malignancy: Melanoma},
    714/673/2.95/v6/0/{Primary Malignancy: Kidney}, 806/673/2.8/v2/0/{Secondary Malignancy: Liver},
    888/706/2.75/v8/90/{Primary Malignancy: Oropharyngeal}, 773/686/4.75/v6/0/{Obstructive and reflux uropathy},
    685/695/3.1/v1/0/{Pleural plaque}, 814/701/4.1/v8/0/{Primary Malignancy: Lung},
    749/708/2.65/v8/0/{Primary Malignancy: Testis}, 773/719/4.0/v2/0/{Secondary Malignancy: other},
    806/730/5.1/v5/0/{Primary Malignancy: Bowel}, 711/739/2.7/v6/0/{Primary Malignancy: Oesophageal},
    826/744/3.9/v3/0/{Primary Malignancy: other}, 722/755/2.4/v9/0/{Primary Malignancy: Thyroid},
    812/755/3.0/v1/0/{Primary Malignancy: Ovary}, 786/769/6.6/v6/0/{Primary Malignancy: Breast},
    756/781/2.85/v4/0/{Endometrial hyperplasia and hypertrophy}, 751/788/2.7/v1/0/{Primary Malignancy: Cervix}}

  \clusterbox{met6}{900.5}{631}{1146}{798}{hdgreen}{Metabolic}
  \wordcloud{met6}{991/662/7.5/v9/0/{Raised LDL-C}, 1097/652/2.6/v7/0/{Peripheral Neuropathy},
    1020/676/4.4/v2/0/{Diabetes Mellitus: other or not specified}, 1031/683/1.4/v4/0/{Type 1 Diabetes Mellitus},
    1025/699/7.6/v0/0/{Raised Total Cholesterol}, 949/709/2.35/v2/0/{Sleep apnoea},
    980/719/6.1/v6/0/{Raised Triglycerides}, 950/739/3.2/v1/0/{Diabetic Eye Disease},
    1020/737/6.9/v1/0/{Obesity}, 1087/747/5.4/v3/90/{Low HDL-C},
    961/765/5.75/v8/0/{Hypertension}, 1060/758/1.6/v8/0/{Diabetic Neuropathy},
    1069/784/4.2/v1/0/{Type 2 Diabetes Mellitus}}

  \clusterbox[5.2]{mh6}{1146}{631}{1392}{798}{hdgreen}{MH, allergic, skin, gynaecological, LD}
  \wordcloud{mh6}{1215/660/4.2/v1/0/{Irritable bowel syndrome}, 1346/660/8.0/v2/0/{Acne},
    1199/669/2.7/v7/0/{Chronic Fatigue Syndrome}, 1299/675/3.1/v2/0/{Substance Misuse},
    1270/692/11.6/v7/0/{Anxiety disorders}, 1305/707/4.45/v2/0/{Chronic sinusitis},
    1243/726/11.7/v5/0/{Depression}, 1341/733/7.0/v1/90/{Asthma},
    1229/744/6.2/v1/0/{Psoriasis}, 1247/761/14.5/v9/0/{Dermatitis},
    1360/768/5.3/v5/0/{Migraine}, 1268/785/6.7/v7/0/{Allergic and chronic rhinitis}}

  % ---------------- 23 -> 9 ----------------
  \draw[link] (arrh23.south east) -- ($(cv9.north west)!.24!(cv9.south west)$);
  \draw[link] (struct23.south east) -- ($(cv9.north west)!.03!(cv9.south west)$);
  \coordinate (cvA) at ($(cv23.south west)!.9!(cv23.south east)$);
  \draw[link] (cvA) -- (cvA |- cv9.north);
  \coordinate (respA) at ($(resp23.south west)!.19!(resp23.south east)$);
  \draw[link] (respA) -- (respA |- cv9.north);
  \draw[link] ($(hern23.south west)!.075!(hern23.south east)$) -- ($(cv9.north east)!.22!(cv9.south east)$);
  \coordinate (hernA) at ($(hern23.south west)!.87!(hern23.south east)$);
  \draw[link] (hernA) -- (hernA |- msk9.north);
  \coordinate (giA) at ($(gi23.south west)!.18!(gi23.south east)$);
  \draw[link] (giA) -- (giA |- msk9.north);
  \draw[link] ($(mskun23.south west)!.03!(mskun23.north west)$) -- ($(msk9.north east)!.11!(msk9.south east)$);
  \coordinate (autA) at ($(autan23.north west)!.675!(autan23.south west)$);
  \draw[link] (autA) -- (autA -| msk9.east);
  \coordinate (audA) at ($(aud23.north west)!.07!(aud23.south west)$);
  \draw[link] (audA) -- (audA -| msk9.east);
  \coordinate (strA) at ($(stroke23.north west)!.17!(stroke23.south west)$);
  \draw[link] (strA) -- (strA -| stroke9.east);
  \coordinate (allA) at ($(allerg23.north west)!.463!(allerg23.south west)$);
  \draw[link] (allA) -- (allA -| mh9.east);
  \draw[link] ($(mh23.north west)!.22!(mh23.south west)$) -- ($(mh9.north east)!.94!(mh9.south east)$);
  \draw[link] (ld23.north west) -- ($(mh9.south west)!.67!(mh9.south east)$);
  \coordinate (pfsA) at ($(pfs23.north west)!.62!(pfs23.north east)$);
  \draw[link] (pfsA) -- (pfsA |- mh9.south);
  \draw[link] (ai23.north) -- (ai23.north |- ai9.south);
  \draw[link] ($(act23.north west)!.81!(act23.north east)$) -- ($(ai9.south west)!.03!(ai9.south east)$);
  \coordinate (metA) at ($(met23.north west)!.93!(met23.north east)$);
  \draw[link] (metA) -- (metA |- met9.south);
  \coordinate (femA) at ($(fem23.north west)!.69!(fem23.north east)$);
  \draw[link] (femA) -- (femA |- fem9.south);
  \draw[link] (asb23.north east) -- (mal9.south west);
  \draw[link] (pmu23.north east) -- ($(mal9.south west)!.14!(mal9.south east)$);
  \coordinate (psmA) at ($(psm23.north east)!.37!(psm23.south east)$);
  \draw[link] (psmA) -- (psmA -| mal9.west);
  \coordinate (alA) at ($(al23.north east)!.17!(al23.south east)$);
  \draw[link] (alA) -- (alA -| alc9.west);
  \draw[link] (haem23.east) -- (haem23.east -| alc9.west);

  % ---------------- 9 -> 6 ----------------
  \coordinate (cvB) at ($(cv9.south west)!.63!(cv9.south east)$);
  \draw[link] (cvB) -- (cvB |- cv6.north);
  \coordinate (mskB) at ($(msk9.south west)!.1!(msk9.south east)$);
  \draw[link] (mskB) -- (mskB |- msk6.north);
  \coordinate (alcB) at ($(alc9.north east)!.83!(alc9.south east)$);
  \draw[link] (alcB) -- (alcB -| alc6.west);
  \coordinate (malB) at ($(mal9.north east)!.41!(mal9.south east)$);
  \draw[link] (malB) -- (malB -| mal6.west);
  \draw[link] ($(fem9.north west)!.92!(fem9.north east)$) -- (mal6.south west);
  \coordinate (metB) at ($(met9.north west)!.85!(met9.north east)$);
  \draw[link] (metB) -- (metB |- met6.south);
  \draw[link] (ai9.north) -- (ai9.north |- mh6.south);
  \coordinate (strB) at ($(stroke9.north west)!.52!(stroke9.south west)$);
  \draw[link] (strB) -- (strB -| msk6.east);
  \draw[link] (mh9.north west) -- ($(msk6.north east)!.81!(msk6.south east)$);
  \coordinate (mhB) at ($(mh9.north west)!.22!(mh9.south west)$);
  \draw[link] (mhB) -- (mhB -| mh6.east);
\end{tikzpicture}
\end{document}
